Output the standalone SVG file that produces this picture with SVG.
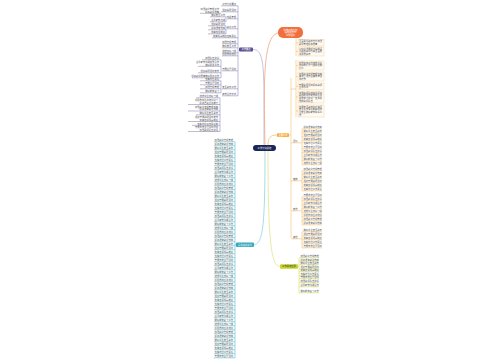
<svg xmlns="http://www.w3.org/2000/svg" width="500" height="360" viewBox="0 0 500 360">
<style>
.t{font-family:"Noto Sans CJK SC","Liberation Sans",sans-serif;font-size:2.3px;fill:#555}
.e{text-anchor:end}
.m{text-anchor:middle}
.w{fill:#fff}
.lp{stroke:#7f76ae;stroke-width:0.5;fill:none}
.lc{stroke:#3aaec2;stroke-width:0.5;fill:none}
.lo{stroke:#f2b24e;stroke-width:0.5;fill:none}
.lg{stroke:#c8d53c;stroke-width:0.5;fill:none}
.bo{fill:#fffaf2;stroke:#f4c98c;stroke-width:0.4}
.cp{stroke:#b9b3d4;stroke-width:0.8;fill:none}
.cc{stroke:#8fd3de;stroke-width:0.8;fill:none}
.co{stroke:#f4a582;stroke-width:0.8;fill:none}
.cm{stroke:#f5c070;stroke-width:0.8;fill:none}
.cg{stroke:#dfe68a;stroke-width:0.8;fill:none}
</style>
<rect width="500" height="360" fill="#fff"/>
<g id="connectors">
<path class="cp" d="M253,49.5C262,49.5 264,60 264,100L264,145"/>
<path class="co" d="M265,145C264,90 262,36 278,33"/>
<path class="cm" d="M268,145C268,138 270,135 277,135"/>
<path class="cc" d="M265,151C265,225 263,244.5 254,244.5"/>
<path class="cg" d="M268,151C268,240 271,266.5 280,266.5"/>
</g>
<g id="center">
<rect x="253" y="145" width="23" height="6" rx="3" fill="#1b2558"/>
<text class="t w m" x="264.5" y="148.8">工作计划总结</text>
</g>
<g id="branch-purple">
<rect x="239" y="47.5" width="14" height="4" rx="1" fill="#5b4f93"/>
<text class="t w m" x="246" y="50.4">工作要点</text>
<path class="lp" d="M238,5.8V95.8M221,5.8H238M221,11.8H238M227,18.8H238M227,28.8H238M212,37.8H238M222,43.8H238M222,47.8H238M222,52.8H238M222,55.8H238M222,70.8H238M222,88.8H238M222,95.8H238"/>
<text class="t e" x="236" y="5">工作计划要点</text>
<text class="t e" x="236" y="11">组织教研活动</text>
<text class="t e" x="236" y="18">班级管理</text>
<text class="t e" x="236" y="28">教学工作</text>
<text class="t e" x="236" y="37">完善规章制度落实责任</text>
<text class="t e" x="236" y="43">加强常规管理</text>
<text class="t e" x="236" y="47">做好安全工作</text>
<text class="t e" x="236" y="52">培养良好习惯</text>
<text class="t e" x="236" y="55">积极参加培训</text>
<text class="t e" x="236" y="70">开展主题活动</text>
<text class="t e" x="236" y="88">安全教育工作</text>
<text class="t e" x="236" y="95">家校合作交流</text>
<path class="lp" d="M200,13.3H221M226,16.8V21.8M210,16.8H226M210,21.8H226M226,25.8V33.8M208,25.8H226M208,29.8H226M208,33.8H226M221,59.8V77.8M202,59.8H221M198,66.3H221M198,72.8H221M192,77.8H221M221,80.8V92.8M200,80.8H221M200,84.8H221M200,88.8H221M200,92.8H221M220,97.8V131.5M196,97.8H220M188,104.5H220M188,111H220M196,114.8H220M188,121.5H220M192,125.3H220M188,131.5H220"/>
<text class="t e" x="219" y="10">加强教学管理工作</text>
<text class="t e" x="219" y="12.6">提高教学质量</text>
<text class="t e" x="225" y="16">做好安全工作</text>
<text class="t e" x="225" y="21">注重家校沟通</text>
<text class="t e" x="225" y="25">组织教研活动</text>
<text class="t e" x="225" y="29">提高课堂效率</text>
<text class="t e" x="225" y="33">完善各项制度</text>
<text class="t e" x="219" y="59">加强队伍建设</text>
<text class="t e" x="219" y="63">注重家校沟通加强合作</text>
<text class="t e" x="219" y="65.6">做好服务工作</text>
<text class="t e" x="219" y="72">组织教研活动安排</text>
<text class="t e" x="219" y="77">提高教学质量做好服务工作</text>
<text class="t e" x="219" y="80">落实岗位责任</text>
<text class="t e" x="219" y="84">开展主题活动</text>
<text class="t e" x="219" y="88">加强常规管理</text>
<text class="t e" x="219" y="92">做好期末复习</text>
<text class="t e" x="218" y="97">培养学生良好习惯</text>
<text class="t e" x="218" y="101">积极参加业务培训学习</text>
<text class="t e" x="218" y="103.7">提高自身业务能力</text>
<text class="t e" x="218" y="107.5">加强教学常规管理落实</text>
<text class="t e" x="218" y="110.2">提高课堂教学效率</text>
<text class="t e" x="218" y="114">做好学生安全教育</text>
<text class="t e" x="218" y="118">组织开展教研活动安排</text>
<text class="t e" x="218" y="120.7">完善各项规章制度</text>
<text class="t e" x="218" y="124.5">落实岗位工作责任制</text>
<text class="t e" x="218" y="128">开展丰富主题活动内容</text>
<text class="t e" x="218" y="130.7">加强教师队伍建设</text>
</g>
<g id="branch-cyan">
<rect x="236" y="242.5" width="18" height="4.5" rx="1" fill="#37a8bf"/>
<text class="t w m" x="245" y="245.6">具体措施安排</text>
<path class="lc" d="M235,141.8V357.8M254,244.8H235"/>
<path class="lc" d="M214,141.8H235M214,145.8H235M214,149.8H235M214,153.8H235M214,157.8H235M214,161.8H235M214,165.8H235M214,169.8H235M214,173.8H235M214,177.8H235M214,181.8H235M214,185.8H235M214,189.8H235M214,193.8H235M214,197.8H235M214,201.8H235M214,205.8H235M214,209.8H235M214,213.8H235M214,217.8H235M214,221.8H235M214,225.8H235M214,229.8H235M214,233.8H235M214,237.8H235M214,241.8H235M214,245.8H235M214,249.8H235M214,253.8H235M214,257.8H235M214,261.8H235M214,265.8H235M214,269.8H235M214,273.8H235M214,277.8H235M214,281.8H235M214,285.8H235M214,289.8H235M214,293.8H235M214,297.8H235M214,301.8H235M214,305.8H235M214,309.8H235M214,313.8H235M214,317.8H235M214,321.8H235M214,325.8H235M214,329.8H235M214,333.8H235M214,337.8H235M214,341.8H235M214,345.8H235M214,349.8H235M214,353.8H235M214,357.8H235"/>
<text class="t e" x="233" y="141">加强教学常规管理</text>
<text class="t e" x="233" y="145">提高课堂教学效率</text>
<text class="t e" x="233" y="149">做好学生安全教育</text>
<text class="t e" x="233" y="153">组织开展教研活动</text>
<text class="t e" x="233" y="157">完善各项规章制度</text>
<text class="t e" x="233" y="161">落实岗位工作责任</text>
<text class="t e" x="233" y="165">开展丰富主题活动</text>
<text class="t e" x="233" y="169">加强教师队伍建设</text>
<text class="t e" x="233" y="173">注重家校沟通合作</text>
<text class="t e" x="233" y="177">做好期末复习工作</text>
<text class="t e" x="233" y="181">培养学生良好习惯</text>
<text class="t e" x="233" y="185">积极参加业务培训</text>
<text class="t e" x="233" y="189">加强教学常规管理</text>
<text class="t e" x="233" y="193">提高课堂教学效率</text>
<text class="t e" x="233" y="197">做好学生安全教育</text>
<text class="t e" x="233" y="201">组织开展教研活动</text>
<text class="t e" x="233" y="205">完善各项规章制度</text>
<text class="t e" x="233" y="209">落实岗位工作责任</text>
<text class="t e" x="233" y="213">开展丰富主题活动</text>
<text class="t e" x="233" y="217">加强教师队伍建设</text>
<text class="t e" x="233" y="221">注重家校沟通合作</text>
<text class="t e" x="233" y="225">做好期末复习工作</text>
<text class="t e" x="233" y="229">培养学生良好习惯</text>
<text class="t e" x="233" y="233">积极参加业务培训</text>
<text class="t e" x="233" y="237">加强教学常规管理</text>
<text class="t e" x="233" y="241">提高课堂教学效率</text>
<text class="t e" x="233" y="245">做好学生安全教育</text>
<text class="t e" x="233" y="249">组织开展教研活动</text>
<text class="t e" x="233" y="253">完善各项规章制度</text>
<text class="t e" x="233" y="257">落实岗位工作责任</text>
<text class="t e" x="233" y="261">开展丰富主题活动</text>
<text class="t e" x="233" y="265">加强教师队伍建设</text>
<text class="t e" x="233" y="269">注重家校沟通合作</text>
<text class="t e" x="233" y="273">做好期末复习工作</text>
<text class="t e" x="233" y="277">培养学生良好习惯</text>
<text class="t e" x="233" y="281">积极参加业务培训</text>
<text class="t e" x="233" y="285">加强教学常规管理</text>
<text class="t e" x="233" y="289">提高课堂教学效率</text>
<text class="t e" x="233" y="293">做好学生安全教育</text>
<text class="t e" x="233" y="297">组织开展教研活动</text>
<text class="t e" x="233" y="301">完善各项规章制度</text>
<text class="t e" x="233" y="305">落实岗位工作责任</text>
<text class="t e" x="233" y="309">开展丰富主题活动</text>
<text class="t e" x="233" y="313">加强教师队伍建设</text>
<text class="t e" x="233" y="317">注重家校沟通合作</text>
<text class="t e" x="233" y="321">做好期末复习工作</text>
<text class="t e" x="233" y="325">培养学生良好习惯</text>
<text class="t e" x="233" y="329">积极参加业务培训</text>
<text class="t e" x="233" y="333">加强教学常规管理</text>
<text class="t e" x="233" y="337">提高课堂教学效率</text>
<text class="t e" x="233" y="341">做好学生安全教育</text>
<text class="t e" x="233" y="345">组织开展教研活动</text>
<text class="t e" x="233" y="349">完善各项规章制度</text>
<text class="t e" x="233" y="353">落实岗位工作责任</text>
<text class="t e" x="233" y="357">开展丰富主题活动</text>
</g>
<g id="branch-orange-top">
<rect x="278" y="27" width="25" height="11" rx="5" fill="#f06f3c"/>
<text class="t w m" x="290.5" y="30.6">学校工作计划</text>
<text class="t w m" x="290.5" y="33.4">指导思想与</text>
<text class="t w m" x="290.5" y="36.2">工作目标</text>
<path class="lo" d="M296,38V56M296,42.8H298M296,51.5H298"/>
<rect class="bo" x="298" y="39.5" width="26" height="6.5"/>
<text class="t" x="299" y="42.1">全面贯彻教育方针加强</text>
<text class="t" x="299" y="44.9">教学管理提高质量</text>
<rect class="bo" x="298" y="47" width="26" height="9"/>
<text class="t" x="299" y="49.6">以科学发展观为指导深</text>
<text class="t" x="299" y="52.4">化教育教学改革全面推</text>
<text class="t" x="299" y="55.2">进素质教育</text>
</g>
<g id="branch-orange-mid">
<rect x="277" y="133.2" width="12" height="3.8" rx="0.8" fill="#f5ad3d"/>
<text class="t m" x="283" y="135.9" style="fill:#fff">主要工作</text>
<path class="lo" d="M289,135H291M291,78V238M291,89H296M296,60V117M296,65.5H298M296,76.5H298M296,86.2H298M296,97H298M296,111H298"/>
<rect class="bo" x="298" y="61" width="26" height="9"/>
<text class="t" x="299" y="63.6">加强德育工作培养学生</text>
<text class="t" x="299" y="66.4">良好的行为习惯和文明</text>
<text class="t" x="299" y="69.2">礼仪</text>
<rect class="bo" x="298" y="72" width="26" height="9"/>
<text class="t" x="299" y="74.6">加强教学常规管理落实</text>
<text class="t" x="299" y="77.4">备课上课作业辅导考试</text>
<text class="t" x="299" y="80.2">等环节</text>
<rect class="bo" x="298" y="83" width="26" height="6.5"/>
<text class="t" x="299" y="85.6">开展教研活动提高教师</text>
<text class="t" x="299" y="88.4">业务水平</text>
<rect class="bo" x="298" y="91" width="26" height="12"/>
<text class="t" x="299" y="93.6">加强教师队伍建设提高</text>
<text class="t" x="299" y="96.4">教师的思想素质和业务</text>
<text class="t" x="299" y="99.2">素质努力建设一支高素</text>
<text class="t" x="299" y="102">质的教师队伍</text>
<rect class="bo" x="298" y="105" width="26" height="12"/>
<text class="t" x="299" y="107.6">加强安全教育建立健全</text>
<text class="t" x="299" y="110.4">安全工作责任制确保师</text>
<text class="t" x="299" y="113.2">生安全做好家校联系工</text>
<text class="t" x="299" y="116">作</text>
<path class="lo" d="M291,142.8H302M302,128.8V164.8M302,128.8H322M302,132.8H322M302,136.8H322M302,140.8H322M302,148.8H322M302,152.8H322M302,156.8H322M302,160.8H322M302,164.8H322"/>
<text class="t" x="293" y="142">目标</text>
<text class="t" x="303.5" y="128">提高课堂教学效率</text>
<text class="t" x="303.5" y="132">做好学生安全教育</text>
<text class="t" x="303.5" y="136">组织开展教研活动</text>
<text class="t" x="303.5" y="140">完善各项规章制度</text>
<text class="t" x="303.5" y="144">落实岗位工作责任</text>
<text class="t" x="303.5" y="148">开展丰富主题活动</text>
<text class="t" x="303.5" y="152">加强教师队伍建设</text>
<text class="t" x="303.5" y="156">注重家校沟通合作</text>
<text class="t" x="303.5" y="160">做好期末复习工作</text>
<text class="t" x="303.5" y="164">培养学生良好习惯</text>
<path class="lo" d="M291,180.8H302M302,170.8V190.8M302,170.8H322M302,174.8H322M302,178.8H322M302,182.8H322M302,186.8H322M302,190.8H322"/>
<text class="t" x="293" y="180">措施</text>
<text class="t" x="303.5" y="170">加强教学常规管理</text>
<text class="t" x="303.5" y="174">提高课堂教学效率</text>
<text class="t" x="303.5" y="178">做好学生安全教育</text>
<text class="t" x="303.5" y="182">组织开展教研活动</text>
<text class="t" x="303.5" y="186">完善各项规章制度</text>
<text class="t" x="303.5" y="190">落实岗位工作责任</text>
<path class="lo" d="M291,210.8H302M302,196.8V224.8M302,196.8H322M302,200.8H322M302,204.8H322M302,208.8H322M302,212.8H322M302,216.8H322M302,220.8H322M302,224.8H322"/>
<text class="t" x="293" y="210">安排</text>
<text class="t" x="303.5" y="196">开展丰富主题活动</text>
<text class="t" x="303.5" y="200">加强教师队伍建设</text>
<text class="t" x="303.5" y="204">注重家校沟通合作</text>
<text class="t" x="303.5" y="208">做好期末复习工作</text>
<text class="t" x="303.5" y="212">培养学生良好习惯</text>
<text class="t" x="303.5" y="216">积极参加业务培训</text>
<text class="t" x="303.5" y="220">加强教学常规管理</text>
<text class="t" x="303.5" y="224">提高课堂教学效率</text>
<path class="lo" d="M291,238.8H302M302,231.8V247.8M302,231.8H322M302,235.8H322M302,239.8H322M302,243.8H322M302,247.8H322"/>
<text class="t" x="293" y="238">其他</text>
<text class="t" x="303.5" y="231">做好学生安全教育</text>
<text class="t" x="303.5" y="235">组织开展教研活动</text>
<text class="t" x="303.5" y="239">完善各项规章制度</text>
<text class="t" x="303.5" y="243">落实岗位工作责任</text>
<text class="t" x="303.5" y="247">开展丰富主题活动</text>
</g>
<g id="branch-green">
<rect x="280" y="264.3" width="18" height="4.5" rx="1" fill="#c6d42c"/>
<text class="t m" x="289" y="267.4" style="fill:#333">工作总结反思</text>
<path class="lg" d="M298,266.5H299M299,257.8V292.8M299,257.8H319M299,261.8H319M299,264.8H319M299,268.8H319M299,271.8H319M299,275.8H319M299,278.8H319M299,282.8H319M299,286.8H319M299,292.8H319"/>
<text class="t" x="300.5" y="257">加强教学常规管理</text>
<text class="t" x="300.5" y="261">提高课堂教学效率</text>
<text class="t" x="300.5" y="264">做好学生安全教育</text>
<text class="t" x="300.5" y="268">组织开展教研活动</text>
<text class="t" x="300.5" y="271">完善各项规章制度</text>
<text class="t" x="300.5" y="275">落实岗位工作责任</text>
<text class="t" x="300.5" y="278">开展丰富主题活动</text>
<text class="t" x="300.5" y="282">加强教师队伍建设</text>
<text class="t" x="300.5" y="286">注重家校沟通合作</text>
<text class="t" x="300.5" y="292">做好期末复习工作</text>
</g>
</svg>
